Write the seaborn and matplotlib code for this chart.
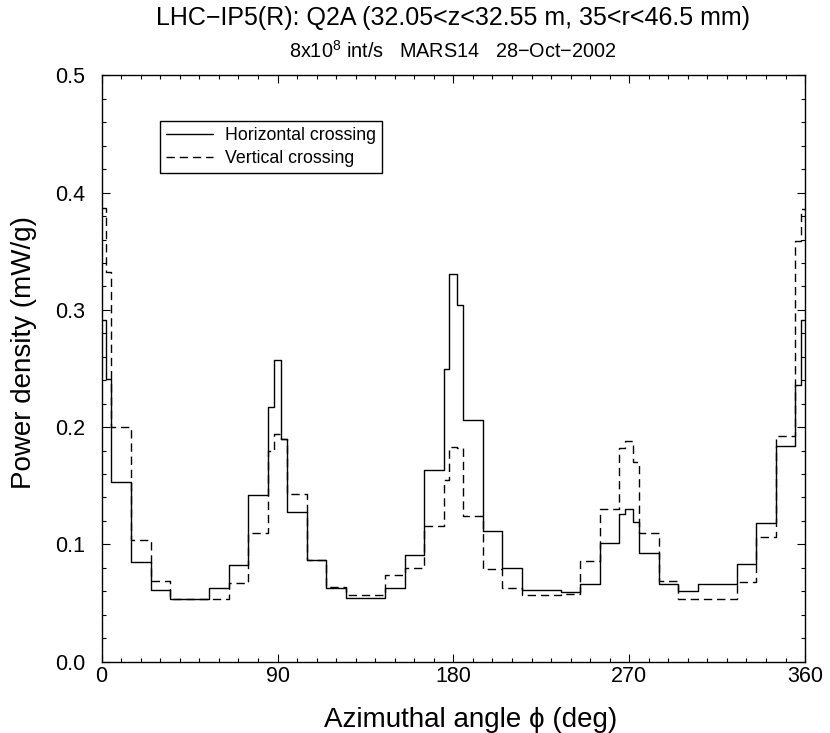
import matplotlib
matplotlib.use("Agg")
import matplotlib.pyplot as plt
import pandas as pd
import seaborn as sns
from matplotlib.ticker import MultipleLocator

# ---- data ----
bin_edges = [0, 2, 5, 15, 25, 35, 45, 55, 65, 75, 85, 88, 92, 95, 105, 115, 125,
             135, 145, 155, 165, 175, 178, 182, 185, 195, 205, 215, 225, 235, 245,
             255, 265, 268, 272, 275, 285, 295, 305, 315, 325, 335, 345, 355, 358, 360]

horizontal = [0.291, 0.241, 0.153, 0.085, 0.061, 0.053, 0.053, 0.063, 0.082,
              0.142, 0.217, 0.257, 0.190, 0.128, 0.087, 0.063, 0.054, 0.054,
              0.063, 0.091, 0.163, 0.250, 0.331, 0.304, 0.206, 0.111, 0.080,
              0.061, 0.061, 0.059, 0.066, 0.101, 0.126, 0.130, 0.119, 0.093,
              0.066, 0.060, 0.066, 0.066, 0.083, 0.118, 0.184, 0.236, 0.291]

vertical = [0.387, 0.332, 0.200, 0.104, 0.069, 0.053, 0.053, 0.053, 0.067,
            0.110, 0.180, 0.194, 0.190, 0.143, 0.087, 0.064, 0.057, 0.057,
            0.074, 0.080, 0.116, 0.155, 0.183, 0.182, 0.124, 0.079, 0.063,
            0.057, 0.057, 0.058, 0.086, 0.130, 0.182, 0.188, 0.170, 0.110,
            0.069, 0.053, 0.053, 0.053, 0.068, 0.106, 0.192, 0.359, 0.386]

labels = ["Horizontal crossing", "Vertical crossing"]
x_ticks = [0, 90, 180, 270, 360]
title = "LHC\u2212IP5(R): Q2A (32.05<z<32.55 m, 35<r<46.5 mm)"
subtitle = "8x10$^{8}$ int/s   MARS14   28\u2212Oct\u22122002"

# ---- style ----
sns.set_theme(style="ticks")
plt.rcParams['font.family'] = ['Liberation Sans', 'DejaVu Sans']
plt.rcParams['mathtext.fontset'] = 'custom'
plt.rcParams['mathtext.rm'] = 'Liberation Sans'
plt.rcParams['mathtext.it'] = 'Liberation Sans:italic'
plt.rcParams['mathtext.bf'] = 'Liberation Sans:bold'
plt.rcParams['lines.scale_dashes'] = False
for k in ['text.color', 'axes.labelcolor', 'xtick.color', 'ytick.color',
          'xtick.labelcolor', 'ytick.labelcolor', 'axes.edgecolor']:
    plt.rcParams[k] = 'black'

fig = plt.figure(figsize=(8.3, 7.33), dpi=100)
ax = fig.add_axes([0.1225, 0.0975, 0.8475, 0.7995])

df_h = pd.DataFrame({"phi": bin_edges, "density": horizontal + [horizontal[-1]]})
df_v = pd.DataFrame({"phi": bin_edges, "density": vertical + [vertical[-1]]})

sns.lineplot(data=df_h, x="phi", y="density", ax=ax, color="black",
             linewidth=1.0, drawstyle="steps-post", estimator=None, sort=False,
             label=labels[0])
sns.lineplot(data=df_v, x="phi", y="density", ax=ax, color="black",
             linewidth=1.0, drawstyle="steps-post", estimator=None, sort=False,
             linestyle=(0, (6, 3.5)), label=labels[1])

ax.set_xlim(0, 360)
ax.set_ylim(0, 0.5)
ax.set_xticks(x_ticks)
ax.xaxis.set_minor_locator(MultipleLocator(10))
ax.yaxis.set_major_locator(MultipleLocator(0.1))
ax.yaxis.set_minor_locator(MultipleLocator(0.02))
ax.yaxis.set_major_formatter(matplotlib.ticker.FormatStrFormatter('%.1f'))
ax.tick_params(which='both', direction='in', top=True, right=True,
               color='black', width=0.8)
ax.tick_params(which='major', length=6)
ax.tick_params(which='minor', length=3)
ax.tick_params(axis='x', which='major', pad=3, labelsize=15.5)
ax.tick_params(axis='y', which='major', pad=12, labelsize=15.5)
for s in ax.spines.values():
    s.set_color('black')
    s.set_linewidth(1.0)

ax.set_xlabel("Azimuthal angle \u03d5 (deg)", fontsize=20)
ax.xaxis.set_label_coords(0.525, -0.077)
ax.xaxis.label.set_verticalalignment('top')
ax.set_ylabel("Power density (mW/g)", fontsize=20)
ax.yaxis.set_label_coords(-0.092, 0.528)

leg = ax.legend(loc='upper left', bbox_to_anchor=(0.083, 0.922), fontsize=12.8,
                handlelength=2.6, handletextpad=0.7, labelspacing=0.3,
                borderpad=0.35, borderaxespad=0, fancybox=False,
                framealpha=1, edgecolor='black')
leg.get_frame().set_linewidth(1.0)

fig.text(0.546, 0.9659, title, ha='center', va='baseline', fontsize=18)
fig.text(0.546, 0.9209, subtitle, ha='center', va='baseline', fontsize=14.3)

fig.savefig("out.png", dpi=100)
